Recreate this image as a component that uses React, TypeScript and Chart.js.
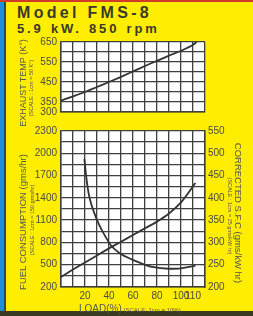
import React, { useEffect, useRef } from 'react';
import { Chart, registerables } from 'chart.js';
Chart.register(...registerables);

// ---- data ----
const loadTickLabels = [20, 40, 60, 80, 100, 110];
const tempTickLabels = [300, 350, 450, 550, 650];
const fuelTickLabels = [200, 500, 800, 1100, 1400, 1700, 2000, 2300];
const sfcTickLabels = [200, 250, 300, 350, 400, 450, 500, 550];

const tempLoad = [0, 10, 20, 30, 40, 50, 60, 70, 80, 90, 100, 110, 113];
const tempK = [357, 378, 400, 425, 450, 476, 503, 530, 556, 582, 606, 636, 650];

const fuelLoad = [0, 10, 20, 30, 40, 50, 60, 70, 80, 90, 100, 112];
const fuelGms = [335, 435, 530, 625, 720, 810, 900, 990, 1080, 1190, 1340, 1600];

const sfcLoad = [19.5, 21, 23, 25, 28, 32, 36, 42, 50, 58, 66, 76, 90, 100, 112];
const sfcVal = [487, 448, 410, 388, 364, 338, 318, 292, 274, 263, 254, 245, 241, 242, 248];

// ---- styles ----
const YELLOW = '#FFEE00';
const GRID = '#3f3f3f';
const TICK = '#4a4a4a';
const FONT = "'Liberation Sans', Arial, sans-serif";

const whiteBg = {
  id: 'whiteBg',
  beforeDraw(chart: any) {
    const { ctx, chartArea: a } = chart;
    ctx.save();
    ctx.fillStyle = '#ffffff';
    ctx.fillRect(a.left, a.top, a.width, a.height);
    ctx.restore();
  },
};

const pts = (xs: number[], ys: number[]) => xs.map((x, i) => ({ x, y: ys[i] }));

const gridCfg = { color: GRID, lineWidth: 1.3, drawTicks: false };
const borderCfg = { color: GRID, width: 1.5 };
const tickFont = { family: FONT, size: 10 };

function TopChart() {
  const ref = useRef<HTMLCanvasElement>(null);
  useEffect(() => {
    const chart = new Chart(ref.current!, {
      type: 'line',
      data: {
        datasets: [
          {
            data: pts(tempLoad, tempK),
            borderColor: '#333',
            borderWidth: 1.8,
            pointRadius: 0,
            cubicInterpolationMode: 'monotone',
          },
        ],
      },
      options: {
        animation: false,
        responsive: false,
        maintainAspectRatio: false,
        layout: { padding: { top: 12, right: 48, bottom: 0, left: 0 } },
        plugins: { legend: { display: false }, tooltip: { enabled: false } },
        scales: {
          x: {
            type: 'linear',
            min: 0,
            max: 120,
            ticks: { stepSize: 10, display: false },
            grid: gridCfg,
            border: borderCfg,
            afterFit(s: any) {
              s.height = 1;
            },
          },
          y: {
            type: 'linear',
            min: 300,
            max: 650,
            ticks: {
              stepSize: 50,
              autoSkip: false,
              padding: 4,
              color: TICK,
              font: tickFont,
              callback: (v: any) => (tempTickLabels.includes(v) ? String(v) : ''),
            },
            grid: gridCfg,
            border: borderCfg,
            afterFit(s: any) {
              s.width = 61;
            },
          },
        },
      },
      plugins: [whiteBg],
    } as any);
    return () => chart.destroy();
  }, []);
  return (
    <canvas
      ref={ref}
      width={253}
      height={92}
      style={{ position: 'absolute', left: 0, top: 30, width: 253, height: 92 }}
    />
  );
}

function BottomChart() {
  const ref = useRef<HTMLCanvasElement>(null);
  useEffect(() => {
    const chart = new Chart(ref.current!, {
      type: 'line',
      data: {
        datasets: [
          {
            data: pts(fuelLoad, fuelGms),
            yAxisID: 'y',
            borderColor: '#333',
            borderWidth: 1.8,
            pointRadius: 0,
            cubicInterpolationMode: 'monotone',
          },
          {
            data: pts(sfcLoad, sfcVal),
            yAxisID: 'y2',
            borderColor: '#333',
            borderWidth: 1.8,
            pointRadius: 0,
            cubicInterpolationMode: 'monotone',
          },
        ],
      },
      options: {
        animation: false,
        responsive: false,
        maintainAspectRatio: false,
        layout: { padding: { top: 6, right: 0, bottom: 0, left: 0 } },
        plugins: { legend: { display: false }, tooltip: { enabled: false } },
        scales: {
          x: {
            type: 'linear',
            min: 0,
            max: 120,
            ticks: {
              stepSize: 10,
              autoSkip: false,
              maxRotation: 0,
              padding: 3,
              color: TICK,
              font: tickFont,
              callback: (v: any) => (loadTickLabels.includes(v) ? String(v) : ''),
            },
            grid: gridCfg,
            border: borderCfg,
            afterFit(s: any) {
              s.height = 29;
            },
          },
          y: {
            type: 'linear',
            position: 'left',
            min: 200,
            max: 2300,
            ticks: {
              stepSize: 150,
              autoSkip: false,
              padding: 4,
              color: TICK,
              font: tickFont,
              callback: (v: any) => (fuelTickLabels.includes(v) ? String(v) : ''),
            },
            grid: gridCfg,
            border: borderCfg,
            afterFit(s: any) {
              s.width = 61;
            },
          },
          y2: {
            type: 'linear',
            position: 'right',
            min: 200,
            max: 550,
            ticks: {
              stepSize: 25,
              autoSkip: false,
              padding: 3,
              color: TICK,
              font: tickFont,
              callback: (v: any) => (sfcTickLabels.includes(v) ? String(v) : ''),
            },
            grid: { display: false, drawTicks: false },
            border: borderCfg,
            afterFit(s: any) {
              s.width = 48;
            },
          },
        },
      },
      plugins: [whiteBg],
    } as any);
    return () => chart.destroy();
  }, []);
  return (
    <canvas
      ref={ref}
      width={253}
      height={195}
      style={{ position: 'absolute', left: 0, top: 121, width: 253, height: 195 }}
    />
  );
}

function VText(props: { cx: number; cy: number; text: string; size: number; rot: number }) {
  return (
    <div
      style={{
        position: 'absolute',
        left: props.cx,
        top: props.cy,
        transform: `translate(-50%, -50%) rotate(${props.rot}deg)`,
        whiteSpace: 'nowrap',
        fontFamily: FONT,
        fontSize: props.size,
        color: '#555',
        lineHeight: 1,
      }}
    >
      {props.text}
    </div>
  );
}

export default function App() {
  return (
    <div
      style={{
        position: 'fixed',
        left: 0,
        top: 0,
        width: 253,
        height: 316,
        background: YELLOW,
        overflow: 'hidden',
      }}
    >
      <div style={{ position: 'absolute', left: 0, top: 0, width: 4, height: 316, background: '#1e8fd6' }} />
      <div style={{ position: 'absolute', left: 4, top: 0, width: 2, height: 316, background: '#2a4a5a' }} />
      <div style={{ position: 'absolute', left: 0, top: 0, width: 253, height: 2, background: '#d23a2a' }} />
      <div style={{ position: 'absolute', left: 0, top: 311, width: 253, height: 5, background: '#3a3a22' }} />

      <div
        style={{
          position: 'absolute',
          left: 17,
          top: 5,
          fontFamily: FONT,
          fontWeight: 'bold',
          fontSize: 16,
          letterSpacing: 3.3,
          color: '#3a3a2a',
          whiteSpace: 'nowrap',
          lineHeight: 1,
        }}
      >
        Model FMS-8
      </div>
      <div
        style={{
          position: 'absolute',
          left: 17,
          top: 22,
          fontFamily: FONT,
          fontWeight: 'bold',
          fontSize: 13,
          letterSpacing: 2.8,
          wordSpacing: 1,
          color: '#3a3a2a',
          whiteSpace: 'nowrap',
          lineHeight: 1,
        }}
      >
        5.9 kW. 850 rpm
      </div>

      <TopChart />
      <BottomChart />

      <VText cx={23} cy={83} text="EXHAUST TEMP (K°)" size={9} rot={-90} />
      <VText cx={32} cy={88} text="(SCALE : 1cm = 50 K°)" size={5.5} rot={-90} />
      <VText cx={23} cy={222} text="FUEL CONSUMPTION (gms/hr)" size={9.5} rot={-90} />
      <VText cx={33} cy={220} text="(SCALE : 1cm = 150 gms/hr)" size={5.5} rot={-90} />
      <VText cx={238} cy={213} text="CORRECTED S.F.C (gms/kW hr)" size={9.5} rot={90} />
      <VText cx={229} cy={216} text="(SCALE : 1cm = 25 gms/kW hr)" size={5.5} rot={90} />

      <div
        style={{
          position: 'absolute',
          left: 79,
          top: 299,
          fontFamily: FONT,
          color: '#555',
          whiteSpace: 'nowrap',
          lineHeight: 1,
        }}
      >
        <span style={{ fontSize: 10 }}>LOAD(%)</span>
        <span style={{ fontSize: 6 }}> (SCALE: 1cm = 10%)</span>
      </div>
    </div>
  );
}
